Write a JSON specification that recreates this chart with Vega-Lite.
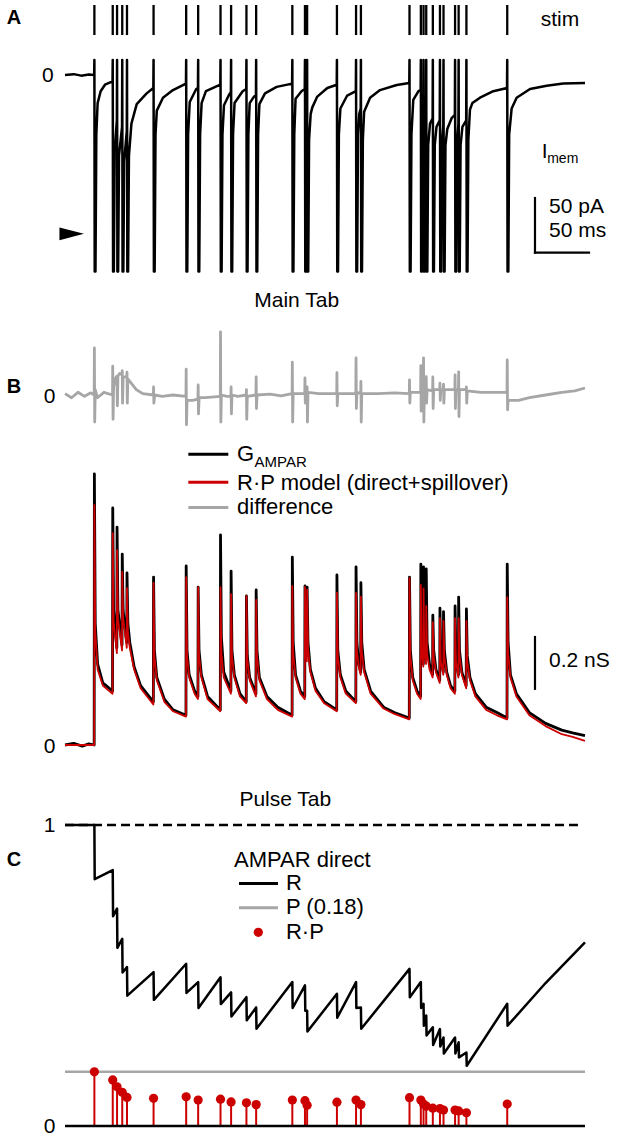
{
"$schema": "https://vega.github.io/schema/vega-lite/v6.json",
"width": 619, "height": 1142,
"autosize": {"type": "fit", "contains": "padding"},
"padding": 0,
"background": "white",
"config": {"view": {"stroke": null}, "axis": {"disable": true}, "text": {"font": "Liberation Sans", "fontSize": 21, "color": "black", "baseline": "middle"}, "line": {"strokeJoin": "round"}},
"datasets": {
"stims": [
{"t":27.2,"rp":0.180},{"t":44.2,"rp":0.153},{"t":48.2,"rp":0.130},{"t":53.0,"rp":0.112},{"t":57.4,"rp":0.095},
{"t":82.0,"rp":0.092},{"t":112.2,"rp":0.097},{"t":123.3,"rp":0.086},{"t":144.0,"rp":0.089},{"t":153.8,"rp":0.080},
{"t":168.0,"rp":0.077},{"t":177.0,"rp":0.071},{"t":210.5,"rp":0.086},{"t":222.2,"rp":0.084},{"t":224.2,"rp":0.069},
{"t":251.8,"rp":0.079},{"t":269.5,"rp":0.086},{"t":274.0,"rp":0.071},{"t":319.0,"rp":0.094},{"t":329.5,"rp":0.086},
{"t":332.0,"rp":0.073},{"t":334.5,"rp":0.066},{"t":340.6,"rp":0.059},{"t":347.2,"rp":0.058},{"t":350.5,"rp":0.053},
{"t":361.2,"rp":0.053},{"t":364.5,"rp":0.050},{"t":371.7,"rp":0.044},{"t":409.5,"rp":0.073}
],
"imem": [
{"t":0,"v":0},{"t":8,"v":0.8},{"t":15,"v":-0.6},{"t":22,"v":0.5},{"t":27.0,"v":0},
{"t":27.2,"v":14},{"t":27.5,"v":-182},{"t":28.2,"v":-182},{"t":29,"v":-55},{"t":30.2,"v":-26},{"t":33,"v":-15},{"t":37,"v":-9},{"t":44.0,"v":-6},
{"t":44.2,"v":14},{"t":44.5,"v":-182},{"t":45.2,"v":-182},{"t":46,"v":-70},{"t":48.0,"v":-42},
{"t":48.2,"v":14},{"t":48.5,"v":-182},{"t":49.2,"v":-182},{"t":50,"v":-75},{"t":52.8,"v":-48},
{"t":53.0,"v":14},{"t":53.3,"v":-182},{"t":54.0,"v":-182},{"t":54.8,"v":-80},{"t":57.2,"v":-52},
{"t":57.4,"v":14},{"t":57.7,"v":-182},{"t":58.4,"v":-182},{"t":59.2,"v":-75},{"t":61.5,"v":-45},{"t":66.4,"v":-27},{"t":75.6,"v":-17},{"t":81.8,"v":-12},
{"t":82.0,"v":14},{"t":82.3,"v":-182},{"t":83.0,"v":-182},{"t":83.8,"v":-55},{"t":85,"v":-33},{"t":90.7,"v":-21},{"t":100,"v":-14},{"t":112,"v":-8},
{"t":112.2,"v":14},{"t":112.5,"v":-182},{"t":113.2,"v":-182},{"t":114,"v":-55},{"t":115.5,"v":-25},{"t":121.5,"v":-13},{"t":123.1,"v":-12},
{"t":123.3,"v":14},{"t":123.6,"v":-182},{"t":124.3,"v":-182},{"t":125.1,"v":-55},{"t":126.5,"v":-26},{"t":130.5,"v":-15},{"t":143.8,"v":-9},
{"t":144.0,"v":14},{"t":144.3,"v":-182},{"t":145,"v":-182},{"t":145.8,"v":-55},{"t":147.2,"v":-28},{"t":152,"v":-18},{"t":153.6,"v":-16},
{"t":153.8,"v":14},{"t":154.1,"v":-182},{"t":154.8,"v":-182},{"t":155.6,"v":-55},{"t":157,"v":-26},{"t":164.5,"v":-15},{"t":167.8,"v":-13},
{"t":168.0,"v":14},{"t":168.3,"v":-182},{"t":169,"v":-182},{"t":169.8,"v":-55},{"t":171,"v":-26},{"t":175,"v":-20},{"t":176.8,"v":-19},
{"t":177.0,"v":14},{"t":177.3,"v":-182},{"t":178,"v":-182},{"t":178.8,"v":-55},{"t":180,"v":-27},{"t":185.2,"v":-17},{"t":196,"v":-11},{"t":210.3,"v":-8},
{"t":210.5,"v":14},{"t":210.8,"v":-182},{"t":211.5,"v":-182},{"t":212.3,"v":-55},{"t":213.5,"v":-22},{"t":219,"v":-15},{"t":222,"v":-13},
{"t":222.2,"v":14},{"t":222.5,"v":-182},{"t":223.2,"v":-182},{"t":223.8,"v":-70},{"t":224.0,"v":-60},
{"t":224.2,"v":14},{"t":224.5,"v":-182},{"t":225.2,"v":-182},{"t":226,"v":-60},{"t":227.5,"v":-36},{"t":229,"v":-30},{"t":233.6,"v":-20},{"t":242.9,"v":-12},{"t":251.6,"v":-9},
{"t":251.8,"v":14},{"t":252.1,"v":-182},{"t":252.8,"v":-182},{"t":253.6,"v":-55},{"t":255,"v":-31},{"t":261.3,"v":-19},{"t":269.3,"v":-15},
{"t":269.5,"v":14},{"t":269.8,"v":-182},{"t":270.5,"v":-182},{"t":271.3,"v":-55},{"t":272.5,"v":-36},{"t":273.8,"v":-31},
{"t":274.0,"v":14},{"t":274.3,"v":-182},{"t":275,"v":-182},{"t":275.8,"v":-60},{"t":277,"v":-34},{"t":282.5,"v":-21},{"t":291.7,"v":-14},{"t":307.2,"v":-9.3},{"t":318.8,"v":-7.4},
{"t":319.0,"v":14},{"t":319.3,"v":-182},{"t":320,"v":-182},{"t":320.8,"v":-55},{"t":322.5,"v":-23},{"t":327.3,"v":-15},{"t":329.3,"v":-14},
{"t":329.5,"v":14},{"t":329.8,"v":-182},{"t":330.5,"v":-182},{"t":331.2,"v":-60},{"t":331.8,"v":-40},
{"t":332.0,"v":14},{"t":332.3,"v":-182},{"t":333,"v":-182},{"t":333.7,"v":-65},{"t":334.3,"v":-45},
{"t":334.5,"v":14},{"t":334.8,"v":-182},{"t":335.5,"v":-182},{"t":336.3,"v":-65},{"t":338,"v":-45},{"t":340.4,"v":-40},
{"t":340.6,"v":14},{"t":340.9,"v":-182},{"t":341.6,"v":-182},{"t":342.4,"v":-65},{"t":344,"v":-48},{"t":347,"v":-42},
{"t":347.2,"v":14},{"t":347.5,"v":-182},{"t":348.2,"v":-182},{"t":349,"v":-65},{"t":350.3,"v":-47},
{"t":350.5,"v":14},{"t":350.8,"v":-182},{"t":351.5,"v":-182},{"t":352.3,"v":-65},{"t":354,"v":-50},{"t":358,"v":-40},{"t":361,"v":-37},
{"t":361.2,"v":14},{"t":361.5,"v":-182},{"t":362.2,"v":-182},{"t":363,"v":-65},{"t":364.3,"v":-45},
{"t":364.5,"v":14},{"t":364.8,"v":-182},{"t":365.5,"v":-182},{"t":366.3,"v":-65},{"t":368,"v":-48},{"t":371.5,"v":-42},
{"t":371.7,"v":14},{"t":372,"v":-182},{"t":372.7,"v":-182},{"t":373.5,"v":-60},{"t":375,"v":-32},{"t":377.2,"v":-26},{"t":384.3,"v":-21},{"t":396.6,"v":-15},{"t":409.3,"v":-12},
{"t":409.5,"v":14},{"t":409.8,"v":-182},{"t":410.5,"v":-182},{"t":411.3,"v":-55},{"t":413.6,"v":-31},{"t":418.2,"v":-21},{"t":430.6,"v":-13},{"t":446,"v":-10},{"t":461.4,"v":-7.8},{"t":481.5,"v":-7.4}
],
"diff": [
{"t":0,"v":0.005},{"t":6,"v":-0.01},{"t":12,"v":0.01},{"t":18,"v":-0.005},{"t":24,"v":0.008},{"t":27.0,"v":0},
{"t":27.2,"v":0.174},{"t":27.5,"v":-0.1},{"t":28,"v":0.02},{"t":30,"v":-0.01},{"t":36,"v":0.01},{"t":44.0,"v":0},
{"t":44.2,"v":0.107},{"t":44.5,"v":-0.09},{"t":45,"v":0.03},{"t":46.5,"v":0.06},{"t":48.0,"v":0.07},
{"t":48.2,"v":0.03},{"t":48.5,"v":-0.04},{"t":49,"v":0.07},{"t":50.5,"v":0.08},{"t":52.8,"v":0.075},
{"t":53.0,"v":0.09},{"t":53.3,"v":-0.03},{"t":53.8,"v":0.065},{"t":57.2,"v":0.07},
{"t":57.4,"v":0.085},{"t":57.7,"v":-0.03},{"t":58.2,"v":0.06},{"t":62,"v":0.04},{"t":66,"v":0.02},{"t":72,"v":0.005},{"t":81.8,"v":0},
{"t":82,"v":0.03},{"t":82.3,"v":-0.03},{"t":83,"v":0},{"t":90,"v":-0.005},{"t":100,"v":0},{"t":112,"v":-0.005},
{"t":112.2,"v":0.096},{"t":112.5,"v":-0.11},{"t":113,"v":-0.02},{"t":118,"v":-0.02},{"t":123.1,"v":-0.015},
{"t":123.3,"v":0.037},{"t":123.6,"v":-0.07},{"t":124.2,"v":-0.01},{"t":130,"v":-0.01},{"t":143.8,"v":-0.005},
{"t":144,"v":0.234},{"t":144.3,"v":-0.1},{"t":144.8,"v":0},{"t":150,"v":-0.005},{"t":153.6,"v":-0.005},
{"t":153.8,"v":0.03},{"t":154.1,"v":-0.07},{"t":154.6,"v":0},{"t":160,"v":-0.005},{"t":167.8,"v":0},
{"t":168,"v":0.02},{"t":168.3,"v":-0.09},{"t":168.8,"v":-0.005},{"t":176.8,"v":0},
{"t":177,"v":0.067},{"t":177.3,"v":-0.05},{"t":177.8,"v":0},{"t":190,"v":0.003},{"t":200,"v":-0.003},{"t":210.3,"v":0.005},
{"t":210.5,"v":0.122},{"t":210.8,"v":-0.1},{"t":211.3,"v":0.005},{"t":222,"v":0.005},
{"t":222.2,"v":0.063},{"t":222.5,"v":-0.03},{"t":223,"v":0.01},{"t":224,"v":0.005},
{"t":224.2,"v":0.03},{"t":224.5,"v":-0.1},{"t":225,"v":0.01},{"t":235,"v":0.005},{"t":251.6,"v":0.005},
{"t":251.8,"v":0.083},{"t":252.1,"v":-0.04},{"t":252.6,"v":0.005},{"t":269.3,"v":0.005},
{"t":269.5,"v":0.137},{"t":269.8,"v":-0.05},{"t":270.3,"v":0.01},{"t":273.8,"v":0.005},
{"t":274,"v":0.05},{"t":274.3,"v":-0.1},{"t":274.8,"v":0.005},{"t":290,"v":0.005},{"t":305,"v":0.008},{"t":318.8,"v":0.005},
{"t":319,"v":0.056},{"t":319.3,"v":-0.03},{"t":319.8,"v":0.01},{"t":329.3,"v":0.01},
{"t":329.5,"v":0.109},{"t":329.8,"v":-0.06},{"t":330.3,"v":0.015},{"t":331.8,"v":0.015},
{"t":332,"v":0.137},{"t":332.3,"v":-0.1},{"t":332.8,"v":0.015},{"t":334.3,"v":0.015},
{"t":334.5,"v":0.068},{"t":334.8,"v":-0.03},{"t":335.3,"v":0.02},{"t":340.4,"v":0.015},
{"t":340.6,"v":0.067},{"t":340.9,"v":-0.05},{"t":341.4,"v":0.02},{"t":347,"v":0.02},
{"t":347.2,"v":0.044},{"t":347.5,"v":-0.02},{"t":348,"v":0.02},{"t":350.3,"v":0.02},
{"t":350.5,"v":0.04},{"t":350.8,"v":-0.03},{"t":351.3,"v":0.02},{"t":361,"v":0.02},
{"t":361.2,"v":0.074},{"t":361.5,"v":-0.05},{"t":362,"v":0.02},{"t":364.3,"v":0.02},
{"t":364.5,"v":0.086},{"t":364.8,"v":-0.08},{"t":365.3,"v":0.02},{"t":371.5,"v":0.02},
{"t":371.7,"v":0.03},{"t":372,"v":-0.03},{"t":372.5,"v":0.015},{"t":385,"v":0.01},{"t":400,"v":0.01},{"t":409.3,"v":0.01},
{"t":409.5,"v":0.13},{"t":409.8,"v":-0.055},{"t":410.3,"v":-0.02},{"t":420,"v":-0.02},{"t":430,"v":-0.01},{"t":445,"v":0},{"t":460,"v":0.01},{"t":472,"v":0.015},{"t":481.5,"v":0.026}
],
"g": [
{"t":0,"g":0,"m":0},{"t":8,"g":0.006,"m":0},{"t":16,"g":-0.004,"m":0},{"t":22,"g":0.004,"m":0},{"t":27.0,"g":0,"m":0},
{"t":27.2,"g":1.004,"m":0.889},{"t":28.0,"g":0.45,"m":0.42},{"t":30.2,"g":0.3,"m":0.28},{"t":35,"g":0.23,"m":0.22},{"t":44.0,"g":0.2,"m":0.19},
{"t":44.2,"g":0.878,"m":0.785},{"t":45.0,"g":0.5,"m":0.46},{"t":48.0,"g":0.36,"m":0.34},
{"t":48.2,"g":0.807,"m":0.722},{"t":49.0,"g":0.5,"m":0.47},{"t":52.8,"g":0.37,"m":0.35},
{"t":53.0,"g":0.707,"m":0.641},{"t":53.8,"g":0.5,"m":0.47},{"t":57.2,"g":0.38,"m":0.36},
{"t":57.4,"g":0.637,"m":0.581},{"t":58.2,"g":0.45,"m":0.42},{"t":60,"g":0.38,"m":0.36},{"t":64,"g":0.29,"m":0.28},{"t":70,"g":0.22,"m":0.21},{"t":81.8,"g":0.16,"m":0.15},
{"t":82,"g":0.622,"m":0.6},{"t":82.8,"g":0.35,"m":0.33},{"t":85,"g":0.25,"m":0.24},{"t":92,"g":0.17,"m":0.16},{"t":100,"g":0.13,"m":0.125},{"t":112,"g":0.11,"m":0.105},
{"t":112.2,"g":0.663,"m":0.622},{"t":113,"g":0.35,"m":0.33},{"t":115,"g":0.26,"m":0.25},{"t":120,"g":0.2,"m":0.19},{"t":123.1,"g":0.18,"m":0.17},
{"t":123.3,"g":0.585,"m":0.585},{"t":124.1,"g":0.35,"m":0.33},{"t":126.3,"g":0.26,"m":0.25},{"t":132,"g":0.18,"m":0.17},{"t":143.8,"g":0.13,"m":0.125},
{"t":144,"g":0.778,"m":0.585},{"t":144.8,"g":0.4,"m":0.34},{"t":147,"g":0.27,"m":0.25},{"t":153.6,"g":0.2,"m":0.19},
{"t":153.8,"g":0.644,"m":0.559},{"t":154.6,"g":0.35,"m":0.33},{"t":156.8,"g":0.26,"m":0.25},{"t":162,"g":0.19,"m":0.18},{"t":167.8,"g":0.16,"m":0.155},
{"t":168,"g":0.552,"m":0.552},{"t":168.8,"g":0.33,"m":0.32},{"t":171,"g":0.25,"m":0.24},{"t":176.8,"g":0.19,"m":0.18},
{"t":177,"g":0.574,"m":0.537},{"t":177.8,"g":0.35,"m":0.33},{"t":180,"g":0.25,"m":0.24},{"t":187,"g":0.18,"m":0.17},{"t":197,"g":0.14,"m":0.13},{"t":210.3,"g":0.11,"m":0.105},
{"t":210.5,"g":0.696,"m":0.589},{"t":211.3,"g":0.38,"m":0.34},{"t":213.5,"g":0.26,"m":0.25},{"t":218,"g":0.2,"m":0.19},{"t":222,"g":0.18,"m":0.17},
{"t":222.2,"g":0.589,"m":0.586},{"t":222.9,"g":0.4,"m":0.38},{"t":224.0,"g":0.33,"m":0.31},
{"t":224.2,"g":0.585,"m":0.575},{"t":225,"g":0.38,"m":0.36},{"t":227.2,"g":0.28,"m":0.27},{"t":232,"g":0.21,"m":0.2},{"t":240,"g":0.16,"m":0.155},{"t":251.6,"g":0.13,"m":0.125},
{"t":251.8,"g":0.63,"m":0.564},{"t":252.6,"g":0.35,"m":0.33},{"t":255,"g":0.26,"m":0.25},{"t":260,"g":0.2,"m":0.19},{"t":269.3,"g":0.16,"m":0.155},
{"t":269.5,"g":0.66,"m":0.563},{"t":270.3,"g":0.38,"m":0.35},{"t":272,"g":0.3,"m":0.29},{"t":273.8,"g":0.27,"m":0.26},
{"t":274,"g":0.601,"m":0.549},{"t":274.8,"g":0.38,"m":0.35},{"t":277,"g":0.28,"m":0.27},{"t":283,"g":0.2,"m":0.19},{"t":295,"g":0.14,"m":0.135},{"t":305,"g":0.12,"m":0.115},{"t":318.8,"g":0.1,"m":0.095},
{"t":319,"g":0.622,"m":0.619},{"t":319.8,"g":0.35,"m":0.33},{"t":322,"g":0.25,"m":0.24},{"t":326,"g":0.2,"m":0.19},{"t":329.3,"g":0.18,"m":0.17},
{"t":329.5,"g":0.67,"m":0.593},{"t":330.2,"g":0.38,"m":0.35},{"t":331.8,"g":0.3,"m":0.29},
{"t":332,"g":0.66,"m":0.58},{"t":332.7,"g":0.38,"m":0.35},{"t":334.3,"g":0.32,"m":0.3},
{"t":334.5,"g":0.652,"m":0.515},{"t":335.3,"g":0.38,"m":0.34},{"t":337.5,"g":0.3,"m":0.28},{"t":340.4,"g":0.26,"m":0.25},
{"t":340.6,"g":0.481,"m":0.455},{"t":341.4,"g":0.35,"m":0.33},{"t":343.5,"g":0.28,"m":0.27},{"t":347,"g":0.24,"m":0.23},
{"t":347.2,"g":0.507,"m":0.47},{"t":348,"g":0.33,"m":0.31},{"t":350.3,"g":0.27,"m":0.26},
{"t":350.5,"g":0.494,"m":0.46},{"t":351.3,"g":0.35,"m":0.33},{"t":353.5,"g":0.27,"m":0.26},{"t":357,"g":0.22,"m":0.21},{"t":361,"g":0.2,"m":0.19},
{"t":361.2,"g":0.515,"m":0.47},{"t":362,"g":0.33,"m":0.31},{"t":364.3,"g":0.26,"m":0.25},
{"t":364.5,"g":0.548,"m":0.47},{"t":365.3,"g":0.35,"m":0.33},{"t":367.5,"g":0.27,"m":0.26},{"t":371.5,"g":0.22,"m":0.21},
{"t":371.7,"g":0.504,"m":0.46},{"t":372.5,"g":0.33,"m":0.31},{"t":375,"g":0.25,"m":0.24},{"t":380,"g":0.19,"m":0.18},{"t":390,"g":0.14,"m":0.13},{"t":400,"g":0.12,"m":0.11},{"t":409.3,"g":0.1,"m":0.095},
{"t":409.5,"g":0.67,"m":0.548},{"t":410.3,"g":0.38,"m":0.34},{"t":412.5,"g":0.26,"m":0.25},{"t":418,"g":0.19,"m":0.18},{"t":430,"g":0.12,"m":0.11},{"t":445,"g":0.08,"m":0.07},{"t":460,"g":0.055,"m":0.04},{"t":470,"g":0.045,"m":0.03},{"t":481.5,"g":0.035,"m":0.015}
],
"r": [
{"t":0,"r":1},{"t":27.2,"r":1},{"t":27.5,"r":0.82},{"t":44.2,"r":0.85},{"t":44.5,"r":0.697},{"t":48.2,"r":0.722},{"t":48.5,"r":0.592},
{"t":53.0,"r":0.622},{"t":53.3,"r":0.51},{"t":57.4,"r":0.528},{"t":57.7,"r":0.433},{"t":82.0,"r":0.511},{"t":82.3,"r":0.419},
{"t":112.2,"r":0.539},{"t":112.5,"r":0.442},{"t":123.3,"r":0.478},{"t":123.6,"r":0.392},{"t":144.0,"r":0.494},{"t":144.3,"r":0.405},
{"t":153.8,"r":0.444},{"t":154.1,"r":0.364},{"t":168.0,"r":0.428},{"t":168.3,"r":0.351},{"t":177.0,"r":0.394},{"t":177.3,"r":0.323},
{"t":210.5,"r":0.478},{"t":210.8,"r":0.392},{"t":222.2,"r":0.467},{"t":222.5,"r":0.383},{"t":224.2,"r":0.383},{"t":224.5,"r":0.314},
{"t":251.8,"r":0.439},{"t":252.1,"r":0.36},{"t":269.5,"r":0.478},{"t":269.8,"r":0.392},{"t":274.0,"r":0.394},{"t":274.3,"r":0.323},
{"t":319.0,"r":0.522},{"t":319.3,"r":0.428},{"t":329.5,"r":0.478},{"t":329.8,"r":0.392},{"t":332.0,"r":0.406},{"t":332.3,"r":0.333},
{"t":334.5,"r":0.367},{"t":334.8,"r":0.301},{"t":340.6,"r":0.328},{"t":340.9,"r":0.269},{"t":347.2,"r":0.322},{"t":347.5,"r":0.264},
{"t":350.5,"r":0.294},{"t":350.8,"r":0.241},{"t":361.2,"r":0.294},{"t":361.5,"r":0.241},{"t":364.5,"r":0.278},{"t":364.8,"r":0.228},
{"t":371.7,"r":0.244},{"t":372.0,"r":0.2},{"t":409.5,"r":0.406},{"t":409.8,"r":0.333},{"t":445,"r":0.475},{"t":481.5,"r":0.61}
]
},
"layer": [
{"data": {"values": [{}]}, "layer": [
 {"data": {"name": "stims"}, "mark": {"type": "rule", "strokeWidth": 2.3, "color": "black"},
  "encoding": {"x": {"field": "t", "type": "quantitative", "scale": {"domain": [-60.2, 513.0]}}, "y": {"datum": 64.8, "type": "quantitative", "scale": {"domain": [-987.96, 69.44]}}, "y2": {"datum": 37}}},
 {"data": {"name": "imem"}, "mark": {"type": "line", "strokeWidth": 2.5, "color": "black"},
  "encoding": {"x": {"field": "t", "type": "quantitative", "scale": {"domain": [-60.2, 513.0]}}, "y": {"field": "v", "type": "quantitative", "scale": {"domain": [-987.96, 69.44]}}}},
 {"mark": {"type": "point", "shape": "M -1 -0.52 L 1 0 L -1 0.52 Z", "size": 600, "filled": true, "color": "black", "opacity": 1, "strokeWidth": 0},
  "encoding": {"x": {"datum": 6.2, "type": "quantitative", "scale": {"domain": [-60.2, 513.0]}}, "y": {"datum": -147, "type": "quantitative", "scale": {"domain": [-987.96, 69.44]}}}},
 {"mark": {"type": "rule", "strokeWidth": 2.2, "color": "black", "strokeCap": "square"},
  "encoding": {"x": {"datum": 435.2, "type": "quantitative", "scale": {"domain": [-60.2, 513.0]}}, "y": {"datum": -113.9, "type": "quantitative", "scale": {"domain": [-987.96, 69.44]}}, "y2": {"datum": -164.4}}},
 {"mark": {"type": "rule", "strokeWidth": 2.2, "color": "black", "strokeCap": "square"},
  "encoding": {"x": {"datum": 435.2, "type": "quantitative", "scale": {"domain": [-60.2, 513.0]}}, "x2": {"datum": 485.2}, "y": {"datum": -164.4, "type": "quantitative", "scale": {"domain": [-987.96, 69.44]}}}},
 {"mark": {"type": "text", "text": "A", "fontSize": 20, "fontWeight": "bold", "align": "center"},
  "encoding": {"x": {"datum": -47.2, "type": "quantitative", "scale": {"domain": [-60.2, 513.0]}}, "y": {"datum": 52.8, "type": "quantitative", "scale": {"domain": [-987.96, 69.44]}}}},
 {"mark": {"type": "text", "text": "0", "fontSize": 21, "align": "center"},
  "encoding": {"x": {"datum": -16, "type": "quantitative", "scale": {"domain": [-60.2, 513.0]}}, "y": {"datum": -0.9, "type": "quantitative", "scale": {"domain": [-987.96, 69.44]}}}},
 {"mark": {"type": "text", "text": "stim", "align": "left"},
  "encoding": {"x": {"datum": 440.5, "type": "quantitative", "scale": {"domain": [-60.2, 513.0]}}, "y": {"datum": 50.9, "type": "quantitative", "scale": {"domain": [-987.96, 69.44]}}}},
 {"mark": {"type": "text", "text": "I", "align": "left"},
  "encoding": {"x": {"datum": 441.5, "type": "quantitative", "scale": {"domain": [-60.2, 513.0]}}, "y": {"datum": -71, "type": "quantitative", "scale": {"domain": [-987.96, 69.44]}}}},
 {"mark": {"type": "text", "text": "mem", "fontSize": 14, "align": "left"},
  "encoding": {"x": {"datum": 446.5, "type": "quantitative", "scale": {"domain": [-60.2, 513.0]}}, "y": {"datum": -77.5, "type": "quantitative", "scale": {"domain": [-987.96, 69.44]}}}},
 {"mark": {"type": "text", "text": "50 pA", "align": "left"},
  "encoding": {"x": {"datum": 448.2, "type": "quantitative", "scale": {"domain": [-60.2, 513.0]}}, "y": {"datum": -122.0, "type": "quantitative", "scale": {"domain": [-987.96, 69.44]}}}},
 {"mark": {"type": "text", "text": "50 ms", "align": "left"},
  "encoding": {"x": {"datum": 448.2, "type": "quantitative", "scale": {"domain": [-60.2, 513.0]}}, "y": {"datum": -144.5, "type": "quantitative", "scale": {"domain": [-987.96, 69.44]}}}},
 {"mark": {"type": "text", "text": "Main Tab", "align": "center"},
  "encoding": {"x": {"datum": 214.5, "type": "quantitative", "scale": {"domain": [-60.2, 513.0]}}, "y": {"datum": -209.3, "type": "quantitative", "scale": {"domain": [-987.96, 69.44]}}}}
]},
{"data": {"values": [{}]}, "layer": [
 {"data": {"name": "diff"}, "mark": {"type": "line", "strokeWidth": 2.8, "color": "#a6a6a6"},
  "encoding": {"x": {"field": "t", "type": "quantitative", "scale": {"domain": [-60.2, 513.0]}}, "y": {"field": "v", "type": "quantitative", "scale": {"domain": [-2.7667, 1.463]}}}},
 {"mark": {"type": "text", "text": "B", "fontSize": 20, "fontWeight": "bold", "align": "center"},
  "encoding": {"x": {"datum": -47.2, "type": "quantitative", "scale": {"domain": [-60.2, 513.0]}}, "y": {"datum": 0.0296, "type": "quantitative", "scale": {"domain": [-2.7667, 1.463]}}}},
 {"mark": {"type": "text", "text": "0", "fontSize": 21, "align": "center"},
  "encoding": {"x": {"datum": -14.2, "type": "quantitative", "scale": {"domain": [-60.2, 513.0]}}, "y": {"datum": -0.006, "type": "quantitative", "scale": {"domain": [-2.7667, 1.463]}}}}
]},
{"data": {"values": [{}]}, "layer": [
 {"data": {"name": "g"}, "mark": {"type": "line", "strokeWidth": 2.8, "color": "black"},
  "encoding": {"x": {"field": "t", "type": "quantitative", "scale": {"domain": [-60.2, 513.0]}}, "y": {"field": "g", "type": "quantitative", "scale": {"domain": [-1.4704, 2.7593]}}}},
 {"data": {"name": "g"}, "mark": {"type": "line", "strokeWidth": 1.8, "color": "#cc0000"},
  "encoding": {"x": {"field": "t", "type": "quantitative", "scale": {"domain": [-60.2, 513.0]}}, "y": {"field": "m", "type": "quantitative", "scale": {"domain": [-1.4704, 2.7593]}}}},
 {"mark": {"type": "rule", "strokeWidth": 3, "color": "black"},
  "encoding": {"x": {"datum": 114.2, "type": "quantitative", "scale": {"domain": [-60.2, 513.0]}}, "x2": {"datum": 151.2}, "y": {"datum": 1.077, "type": "quantitative", "scale": {"domain": [-1.4704, 2.7593]}}}},
 {"mark": {"type": "rule", "strokeWidth": 3, "color": "#cc0000"},
  "encoding": {"x": {"datum": 114.2, "type": "quantitative", "scale": {"domain": [-60.2, 513.0]}}, "x2": {"datum": 151.2}, "y": {"datum": 0.973, "type": "quantitative", "scale": {"domain": [-1.4704, 2.7593]}}}},
 {"mark": {"type": "rule", "strokeWidth": 3, "color": "#a6a6a6"},
  "encoding": {"x": {"datum": 114.2, "type": "quantitative", "scale": {"domain": [-60.2, 513.0]}}, "x2": {"datum": 151.2}, "y": {"datum": 0.880, "type": "quantitative", "scale": {"domain": [-1.4704, 2.7593]}}}},
 {"mark": {"type": "text", "text": "G", "fontSize": 22, "align": "left"},
  "encoding": {"x": {"datum": 159.3, "type": "quantitative", "scale": {"domain": [-60.2, 513.0]}}, "y": {"datum": 1.077, "type": "quantitative", "scale": {"domain": [-1.4704, 2.7593]}}}},
 {"mark": {"type": "text", "text": "AMPAR", "fontSize": 15, "align": "left"},
  "encoding": {"x": {"datum": 175.5, "type": "quantitative", "scale": {"domain": [-60.2, 513.0]}}, "y": {"datum": 1.05, "type": "quantitative", "scale": {"domain": [-1.4704, 2.7593]}}}},
 {"mark": {"type": "text", "text": "R·P model (direct+spillover)", "fontSize": 22, "align": "left"},
  "encoding": {"x": {"datum": 159.3, "type": "quantitative", "scale": {"domain": [-60.2, 513.0]}}, "y": {"datum": 0.972, "type": "quantitative", "scale": {"domain": [-1.4704, 2.7593]}}}},
 {"mark": {"type": "text", "text": "difference", "fontSize": 22, "align": "left"},
  "encoding": {"x": {"datum": 159.3, "type": "quantitative", "scale": {"domain": [-60.2, 513.0]}}, "y": {"datum": 0.880, "type": "quantitative", "scale": {"domain": [-1.4704, 2.7593]}}}},
 {"mark": {"type": "rule", "strokeWidth": 2.2, "color": "black"},
  "encoding": {"x": {"datum": 435.2, "type": "quantitative", "scale": {"domain": [-60.2, 513.0]}}, "y": {"datum": 0.204, "type": "quantitative", "scale": {"domain": [-1.4704, 2.7593]}}, "y2": {"datum": 0.404}}},
 {"mark": {"type": "text", "text": "0.2 nS", "align": "left"},
  "encoding": {"x": {"datum": 448.2, "type": "quantitative", "scale": {"domain": [-60.2, 513.0]}}, "y": {"datum": 0.31, "type": "quantitative", "scale": {"domain": [-1.4704, 2.7593]}}}},
 {"mark": {"type": "text", "text": "0", "fontSize": 21, "align": "center"},
  "encoding": {"x": {"datum": -14.2, "type": "quantitative", "scale": {"domain": [-60.2, 513.0]}}, "y": {"datum": -0.007, "type": "quantitative", "scale": {"domain": [-1.4704, 2.7593]}}}},
 {"mark": {"type": "text", "text": "Pulse Tab", "align": "center"},
  "encoding": {"x": {"datum": 204, "type": "quantitative", "scale": {"domain": [-60.2, 513.0]}}, "y": {"datum": -0.204, "type": "quantitative", "scale": {"domain": [-1.4704, 2.7593]}}}}
]},
{"data": {"values": [{}]}, "layer": [
 {"mark": {"type": "rule", "strokeWidth": 2.3, "color": "black", "strokeDash": [9, 5]},
  "encoding": {"x": {"datum": 0, "type": "quantitative", "scale": {"domain": [-60.2, 513.0]}}, "x2": {"datum": 475}, "y": {"datum": 1, "type": "quantitative", "scale": {"domain": [-0.0532, 3.7409]}}}},
 {"mark": {"type": "rule", "strokeWidth": 2.5, "color": "#a6a6a6"},
  "encoding": {"x": {"datum": 0, "type": "quantitative", "scale": {"domain": [-60.2, 513.0]}}, "x2": {"datum": 481.5}, "y": {"datum": 0.18, "type": "quantitative", "scale": {"domain": [-0.0532, 3.7409]}}}},
 {"data": {"name": "r"}, "mark": {"type": "line", "strokeWidth": 2.5, "color": "black"},
  "encoding": {"x": {"field": "t", "type": "quantitative", "scale": {"domain": [-60.2, 513.0]}}, "y": {"field": "r", "type": "quantitative", "scale": {"domain": [-0.0532, 3.7409]}}}},
 {"data": {"name": "stims"}, "mark": {"type": "rule", "strokeWidth": 2, "color": "#cc0000"},
  "encoding": {"x": {"field": "t", "type": "quantitative", "scale": {"domain": [-60.2, 513.0]}}, "y": {"field": "rp", "type": "quantitative", "scale": {"domain": [-0.0532, 3.7409]}}, "y2": {"datum": 0}}},
 {"data": {"name": "stims"}, "mark": {"type": "circle", "size": 85, "color": "#cc0000", "opacity": 1},
  "encoding": {"x": {"field": "t", "type": "quantitative", "scale": {"domain": [-60.2, 513.0]}}, "y": {"field": "rp", "type": "quantitative", "scale": {"domain": [-0.0532, 3.7409]}}}},
 {"mark": {"type": "rule", "strokeWidth": 2.6, "color": "black"},
  "encoding": {"x": {"datum": 0, "type": "quantitative", "scale": {"domain": [-60.2, 513.0]}}, "x2": {"datum": 481.5}, "y": {"datum": 0, "type": "quantitative", "scale": {"domain": [-0.0532, 3.7409]}}}},
 {"mark": {"type": "rule", "strokeWidth": 3, "color": "black"},
  "encoding": {"x": {"datum": 161.1, "type": "quantitative", "scale": {"domain": [-60.2, 513.0]}}, "x2": {"datum": 197.2}, "y": {"datum": 0.806, "type": "quantitative", "scale": {"domain": [-0.0532, 3.7409]}}}},
 {"mark": {"type": "rule", "strokeWidth": 3, "color": "#a6a6a6"},
  "encoding": {"x": {"datum": 161.1, "type": "quantitative", "scale": {"domain": [-60.2, 513.0]}}, "x2": {"datum": 197.2}, "y": {"datum": 0.725, "type": "quantitative", "scale": {"domain": [-0.0532, 3.7409]}}}},
 {"mark": {"type": "circle", "size": 85, "color": "#cc0000", "opacity": 1},
  "encoding": {"x": {"datum": 179, "type": "quantitative", "scale": {"domain": [-60.2, 513.0]}}, "y": {"datum": 0.6435, "type": "quantitative", "scale": {"domain": [-0.0532, 3.7409]}}}},
 {"mark": {"type": "text", "text": "C", "fontSize": 20, "fontWeight": "bold", "align": "center"},
  "encoding": {"x": {"datum": -47.2, "type": "quantitative", "scale": {"domain": [-60.2, 513.0]}}, "y": {"datum": 0.884, "type": "quantitative", "scale": {"domain": [-0.0532, 3.7409]}}}},
 {"mark": {"type": "text", "text": "1", "fontSize": 21, "align": "center"},
  "encoding": {"x": {"datum": -14.2, "type": "quantitative", "scale": {"domain": [-60.2, 513.0]}}, "y": {"datum": 0.997, "type": "quantitative", "scale": {"domain": [-0.0532, 3.7409]}}}},
 {"mark": {"type": "text", "text": "0", "fontSize": 21, "align": "center"},
  "encoding": {"x": {"datum": -14.2, "type": "quantitative", "scale": {"domain": [-60.2, 513.0]}}, "y": {"datum": -0.003, "type": "quantitative", "scale": {"domain": [-0.0532, 3.7409]}}}},
 {"mark": {"type": "text", "text": "AMPAR direct", "fontSize": 22, "align": "left"},
  "encoding": {"x": {"datum": 156.5, "type": "quantitative", "scale": {"domain": [-60.2, 513.0]}}, "y": {"datum": 0.884, "type": "quantitative", "scale": {"domain": [-0.0532, 3.7409]}}}},
 {"mark": {"type": "text", "text": "R", "fontSize": 22, "align": "left"},
  "encoding": {"x": {"datum": 204.6, "type": "quantitative", "scale": {"domain": [-60.2, 513.0]}}, "y": {"datum": 0.806, "type": "quantitative", "scale": {"domain": [-0.0532, 3.7409]}}}},
 {"mark": {"type": "text", "text": "P (0.18)", "fontSize": 22, "align": "left"},
  "encoding": {"x": {"datum": 204.6, "type": "quantitative", "scale": {"domain": [-60.2, 513.0]}}, "y": {"datum": 0.726, "type": "quantitative", "scale": {"domain": [-0.0532, 3.7409]}}}},
 {"mark": {"type": "text", "text": "R·P", "fontSize": 22, "align": "left"},
  "encoding": {"x": {"datum": 204.6, "type": "quantitative", "scale": {"domain": [-60.2, 513.0]}}, "y": {"datum": 0.645, "type": "quantitative", "scale": {"domain": [-0.0532, 3.7409]}}}}
]}
],
"resolve": {"scale": {"y": "independent"}}
}
